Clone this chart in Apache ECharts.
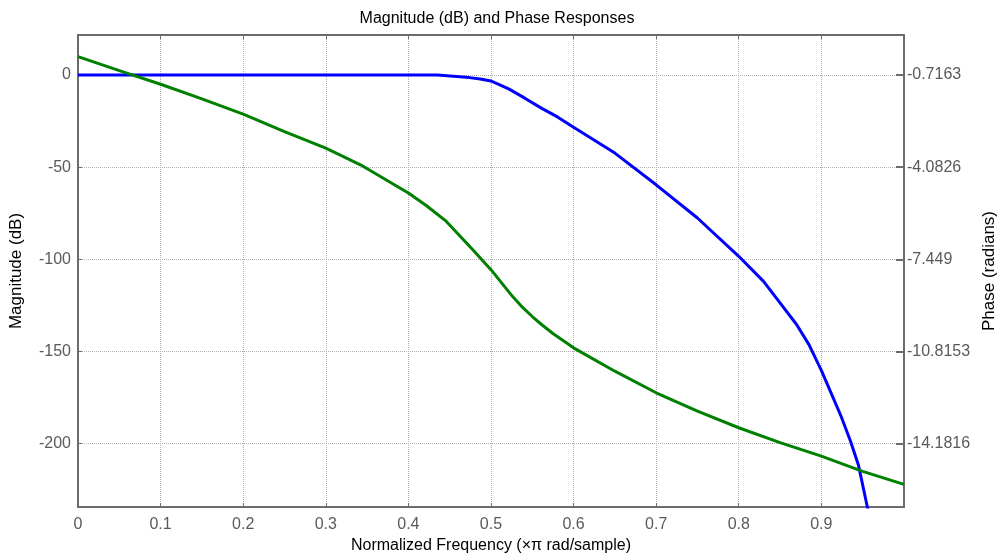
<!DOCTYPE html>
<html>
<head>
<meta charset="utf-8">
<title>Magnitude (dB) and Phase Responses</title>
<script src="https://cdn.jsdelivr.net/npm/echarts@6/dist/echarts.min.js"></script>
<style>
  body { margin: 0; background: #fff; }
  #main { width: 1006px; height: 559px; }
</style>
</head>
<body>
<div id="main"></div>
<script type="text/javascript">
// magnitude response (dB)
var magFreq = [0, 0.1, 0.2, 0.3, 0.4, 0.435, 0.437, 0.474, 0.487, 0.5, 0.506, 0.522, 0.541, 0.561, 0.581, 0.6, 0.65, 0.7, 0.75, 0.8, 0.83, 0.85, 0.87, 0.885, 0.9, 0.912, 0.924, 0.935, 0.945, 0.955, 0.96];
var magDb = [0, 0, 0, 0, 0, 0, -0.5, -1.45, -2.2, -3.25, -4.5, -7.7, -12.6, -18.0, -22.9, -28.4, -42.4, -59.6, -77.6, -98.4, -112.0, -123.7, -135.4, -146.3, -160.3, -172.8, -185.3, -198.3, -211.8, -232.9, -243.8];

// phase response (radians)
var phaseFreq = [0, 0.05, 0.1, 0.15, 0.2, 0.25, 0.3, 0.342, 0.4, 0.422, 0.446, 0.478, 0.5, 0.526, 0.538, 0.55, 0.562, 0.575, 0.6, 0.65, 0.7, 0.75, 0.8, 0.85, 0.9, 0.95, 1.0];
var phaseRad = [-0.049, -0.559, -1.055, -1.592, -2.150, -2.784, -3.390, -3.999, -5.031, -5.494, -6.067, -7.099, -7.828, -8.802, -9.200, -9.540, -9.850, -10.160, -10.684, -11.537, -12.325, -12.996, -13.602, -14.148, -14.637, -15.195, -15.669];

// tick labels
var freqTicks = [0, 0.1, 0.2, 0.3, 0.4, 0.5, 0.6, 0.7, 0.8, 0.9];
var magTicks = [-200, -150, -100, -50, 0];
var phaseTicks = [-14.1816, -10.8153, -7.449, -4.0826, -0.7163];

function pairs(xs, ys) {
  var out = [];
  for (var i = 0; i < xs.length; i++) out.push([xs[i], ys[i]]);
  return out;
}

var axisGray = '#6b6b6b';
var labelGray = '#5a5a5a';
var fontFam = '"Liberation Sans", Arial, sans-serif';

var myChart = echarts.init(document.getElementById('main'));
myChart.setOption({
  animation: false,
  title: {
    text: 'Magnitude (dB) and Phase Responses',
    left: 492, top: 6, textAlign: 'center',
    textStyle: { fontSize: 16, fontWeight: 'normal', color: '#000', fontFamily: fontFam }
  },
  grid: { left: 77, top: 35, right: 92, bottom: 51 },
  xAxis: [{
    type: 'value', min: 0, max: 1,
    name: 'Normalized Frequency (\u00d7\u03c0 rad/sample)',
    nameLocation: 'middle', nameGap: 31,
    nameTextStyle: { fontSize: 16, color: '#000', fontFamily: fontFam },
    axisLine: { onZero: false, lineStyle: { color: axisGray, width: 2 } },
    axisTick: { inside: true, length: 4, customValues: freqTicks, lineStyle: { color: axisGray } },
    axisLabel: { customValues: freqTicks, margin: 10, fontSize: 16, color: labelGray, fontFamily: fontFam },
    splitLine: { show: true, lineStyle: { color: '#b0b0b0', type: 'dotted', width: 1 } }
  }, {
    type: 'value', min: 0, max: 1, position: 'top',
    axisLine: { onZero: false, lineStyle: { color: axisGray, width: 2 } },
    axisTick: { inside: true, length: 4, customValues: freqTicks, lineStyle: { color: axisGray } },
    axisLabel: { show: false },
    splitLine: { show: false }
  }],
  yAxis: [{
    type: 'value', min: -234.4, max: 21.67,
    name: 'Magnitude (dB)', nameLocation: 'middle', nameGap: 53, nameRotate: 90,
    nameTextStyle: { fontSize: 17, color: '#000', fontFamily: fontFam },
    axisLine: { show: true, onZero: false, lineStyle: { color: axisGray, width: 2 } },
    axisTick: { show: true, inside: true, length: 4, customValues: magTicks, lineStyle: { color: axisGray } },
    axisLabel: { customValues: magTicks, margin: 7, fontSize: 16, color: labelGray, fontFamily: fontFam },
    splitLine: { show: true, lineStyle: { color: '#b0b0b0', type: 'dotted', width: 1 } }
  }, {
    type: 'value', min: -16.497, max: 0.7425, position: 'right',
    name: 'Phase (radians)', nameLocation: 'middle', nameGap: 73, nameRotate: 90,
    nameTextStyle: { fontSize: 17, color: '#000', fontFamily: fontFam },
    axisLine: { show: true, onZero: false, lineStyle: { color: axisGray, width: 2 } },
    axisTick: { show: true, inside: true, length: 8, customValues: phaseTicks, lineStyle: { color: axisGray, width: 2 } },
    axisLabel: { customValues: phaseTicks, margin: 3, fontSize: 16, color: labelGray, fontFamily: fontFam },
    splitLine: { show: false }
  }],
  series: [{
    name: 'Magnitude', type: 'line', xAxisIndex: 0, yAxisIndex: 0,
    data: pairs(magFreq, magDb), showSymbol: false, smooth: false, clip: true,
    lineStyle: { color: '#0000ff', width: 3 }
  }, {
    name: 'Phase', type: 'line', xAxisIndex: 0, yAxisIndex: 1,
    data: pairs(phaseFreq, phaseRad), showSymbol: false, smooth: false, clip: true,
    lineStyle: { color: '#008000', width: 3 }
  }]
});
</script>
</body>
</html>
